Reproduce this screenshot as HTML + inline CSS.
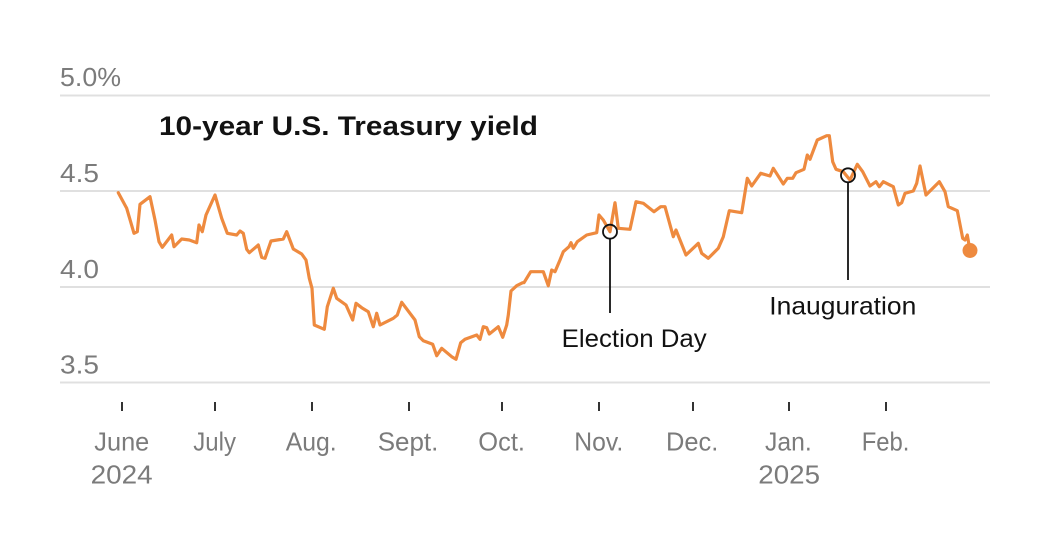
<!DOCTYPE html>
<html>
<head>
<meta charset="utf-8">
<style>
  html, body { margin: 0; padding: 0; background: #ffffff; }
  body { width: 1050px; height: 550px; overflow: hidden; }
  svg { display: block; }
  text { font-family: "Liberation Sans", sans-serif; }
</style>
</head>
<body>
<svg width="1050" height="550" viewBox="0 0 1050 550" xmlns="http://www.w3.org/2000/svg">
  <rect width="1050" height="550" fill="#ffffff"/>

  <!-- gridlines -->
  <g stroke="#e0e0e0" stroke-width="2">
    <line x1="60" y1="95.5" x2="990" y2="95.5"/>
    <line x1="60" y1="191" x2="990" y2="191"/>
    <line x1="60" y1="287" x2="990" y2="287"/>
    <line x1="60" y1="382.5" x2="990" y2="382.5"/>
  </g>

  <!-- y labels -->
  <g fill="#7b7b7b" font-size="26">
    <text x="60" y="86" textLength="61" lengthAdjust="spacingAndGlyphs">5.0%</text>
    <text x="60" y="182" textLength="39" lengthAdjust="spacingAndGlyphs">4.5</text>
    <text x="60" y="278" textLength="39" lengthAdjust="spacingAndGlyphs">4.0</text>
    <text x="60" y="373.5" textLength="39" lengthAdjust="spacingAndGlyphs">3.5</text>
  </g>

  <!-- title -->
  <text x="159" y="135" font-size="27" font-weight="bold" fill="#121212" textLength="379" lengthAdjust="spacingAndGlyphs">10-year U.S. Treasury yield</text>

  <!-- x ticks -->
  <g stroke="#333" stroke-width="2">
    <line x1="122" y1="402" x2="122" y2="411"/>
    <line x1="215" y1="402" x2="215" y2="411"/>
    <line x1="312" y1="402" x2="312" y2="411"/>
    <line x1="409" y1="402" x2="409" y2="411"/>
    <line x1="502" y1="402" x2="502" y2="411"/>
    <line x1="599" y1="402" x2="599" y2="411"/>
    <line x1="693" y1="402" x2="693" y2="411"/>
    <line x1="789" y1="402" x2="789" y2="411"/>
    <line x1="886" y1="402" x2="886" y2="411"/>
  </g>

  <!-- x labels -->
  <g fill="#7b7b7b" font-size="26">
    <text x="94.3" y="450.5" textLength="55" lengthAdjust="spacingAndGlyphs">June</text>
    <text x="90.7" y="483.5" textLength="62" lengthAdjust="spacingAndGlyphs">2024</text>
    <text x="193.3" y="450.5" textLength="42.7" lengthAdjust="spacingAndGlyphs">July</text>
    <text x="285.7" y="450.5" textLength="51" lengthAdjust="spacingAndGlyphs">Aug.</text>
    <text x="377.7" y="450.5" textLength="60.7" lengthAdjust="spacingAndGlyphs">Sept.</text>
    <text x="478.3" y="450.5" textLength="46.7" lengthAdjust="spacingAndGlyphs">Oct.</text>
    <text x="574.3" y="450.5" textLength="49" lengthAdjust="spacingAndGlyphs">Nov.</text>
    <text x="666" y="450.5" textLength="52.3" lengthAdjust="spacingAndGlyphs">Dec.</text>
    <text x="765" y="450.5" textLength="46.7" lengthAdjust="spacingAndGlyphs">Jan.</text>
    <text x="758.3" y="483.5" textLength="61.7" lengthAdjust="spacingAndGlyphs">2025</text>
    <text x="861.7" y="450.5" textLength="47.7" lengthAdjust="spacingAndGlyphs">Feb.</text>
  </g>

  <!-- series -->
  <polyline fill="none" stroke="#ee8a3f" stroke-width="3.2" stroke-linejoin="round" stroke-linecap="round" points="
118.3,192.7 126.7,208.3 134,233.3 137.3,231.7 140,204.3 150,196.7 155,220 159,241.7 162.3,247.3 171.7,235 174,246.7 181.7,239 189.3,240 196.7,242.7 199,225 202.3,231.7 206,215 215,195 221.7,218.3 227.3,233.3 236.7,235 240,231 243.3,233.3 246.7,249.3 249.3,252.7 258.3,245 261.7,257.3 265,258.3 271,241 283.3,239 286.7,231.7 293.3,249 301.7,254 306,260 309.3,278.3 312,288.3 314.3,325 324.3,329.3 327.3,306.7 333.3,288.3 336.7,298.3 346,305 352.7,320 356,303.3 361.7,307.7 368.3,311.7 373.3,326.7 376.7,313.3 380,325 393.3,318.3 397.3,315 401.7,302.3 415,320 419.3,336.7 423.3,340.7 432.7,344.3 436.7,355.7 441.7,348.3 451.7,356.7 456,359.3 460.7,342.7 465,339.3 476.7,335 480,339.3 483.3,326.7 486.7,327.7 489.3,334 498.3,326.7 502.7,337.3 506.7,325 508.3,315 511,291 516.7,285.7 522.7,282.7 524,282.7 530.7,271.7 543.3,271.7 548.3,285.7 551.7,270 555,271.7 560,260 563.3,251.7 569,246.7 571,242.7 573.3,248.3 577.3,241.7 586.7,235 596.7,232.7 599,215 603.3,220 610,231.7 615,202.7 618.3,228.3 630,229.3 636,201.7 643.3,203.3 654,211.7 660.7,206.7 665,206.7 673.3,236.7 676,230 686,255 698.3,243.3 701.7,253.3 708.3,258.3 718.3,248.3 723.3,236.7 729.3,210.7 741.7,212.7 747.3,178.3 751.7,186 760.7,173.3 770,176 773.3,168.3 783.3,184 787.3,178.3 792.7,178.3 796,172.7 804,169.3 807.3,155 810,159.3 817.3,140 826.7,135.7 829.3,135.7 832.7,161.7 836,169.3 843.3,171.7 850,180 857.3,164.3 862.7,171.7 870,186 876,181.7 879.3,186.7 883.3,181.7 893.3,186.7 898.3,205 901.7,202.7 905,193.3 913.3,191 916.7,183.3 920,166 926,195 939.3,181.7 945,191.7 948.3,206.7 957.3,210.7 962.7,238.3 965,240 967.3,235 970,250.5"/>
  <circle cx="970" cy="250.5" r="7.5" fill="#ee8a3f"/>

  <!-- annotations -->
  <g stroke="#121212" stroke-width="1.8" fill="none">
    <circle cx="610" cy="231.7" r="7"/>
    <line x1="610" y1="238.7" x2="610" y2="313"/>
    <circle cx="848" cy="175.3" r="7"/>
    <line x1="848" y1="182.3" x2="848" y2="280"/>
  </g>
  <g fill="#121212" font-size="25">
    <text x="561.7" y="347" textLength="145" lengthAdjust="spacingAndGlyphs">Election Day</text>
    <text x="769.3" y="314.3" textLength="147" lengthAdjust="spacingAndGlyphs">Inauguration</text>
  </g>
</svg>
</body>
</html>
